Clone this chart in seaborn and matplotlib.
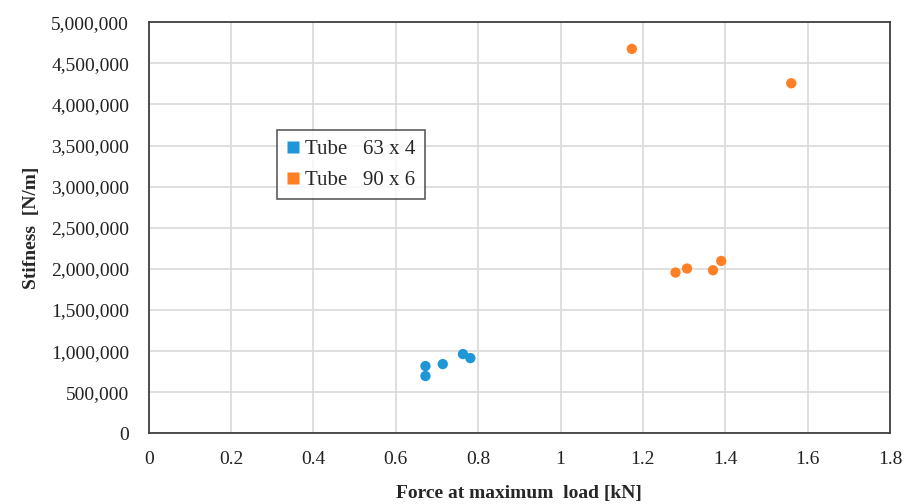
import matplotlib
matplotlib.use("Agg")
import matplotlib.pyplot as plt
import seaborn as sns
import pandas as pd
from matplotlib.ticker import FuncFormatter, MultipleLocator
from matplotlib.lines import Line2D

series_names = ["Tube   63 x 4", "Tube   90 x 6"]
force_63 = [0.672, 0.672, 0.714, 0.763, 0.781]
stiff_63 = [819000, 698000, 843000, 965000, 916000]
force_90 = [1.173, 1.560, 1.279, 1.307, 1.370, 1.390]
stiff_90 = [4675000, 4257000, 1956000, 2005000, 1984000, 2097000]
colors = ["#1E96D8", "#FF7F24"]

df = pd.DataFrame({
    "force": force_63 + force_90,
    "stiff": stiff_63 + stiff_90,
    "series": [series_names[0]] * len(force_63) + [series_names[1]] * len(force_90),
})

sns.set_theme(style="whitegrid")
plt.rcParams["font.family"] = ["Liberation Serif", "DejaVu Serif"]

fig = plt.figure(figsize=(9.12, 5.04), dpi=100)
ax = fig.add_axes([0.163, 0.14, 0.813, 0.816])

sns.scatterplot(data=df, x="force", y="stiff", hue="series", palette=colors,
                s=55, edgecolor="none", ax=ax, legend=False, zorder=3)

ax.set_xlim(0, 1.8)
ax.set_ylim(0, 5000000)
ax.xaxis.set_major_locator(MultipleLocator(0.2))
ax.yaxis.set_major_locator(MultipleLocator(500000))
ax.xaxis.set_major_formatter(FuncFormatter(lambda v, p: f"{v:g}"))
ax.yaxis.set_major_formatter(FuncFormatter(lambda v, p: f"{int(round(v)):,}"))
ax.grid(True, color="#d9d9d9", linewidth=1.2)
for s in ax.spines.values():
    s.set_color("#404040")
    s.set_linewidth(1.3)
ax.tick_params(axis="both", length=0, labelsize=14, colors="#222222")
ax.tick_params(axis="y", pad=14)
ax.tick_params(axis="x", pad=13)

ax.set_xlabel("Force at maximum  load [kN]", fontsize=14, fontweight="bold", labelpad=12)
ax.set_ylabel("Stifness  [N/m]", fontsize=14, fontweight="bold", labelpad=8)

handles = [Line2D([0], [0], marker="s", linestyle="none", markersize=8,
                  markerfacecolor=c, markeredgecolor="none") for c in colors]
leg = ax.legend(handles, series_names, loc="upper left", bbox_to_anchor=(0.173, 0.738),
                borderaxespad=0, frameon=True, fancybox=False, fontsize=15,
                handlelength=0.6, handletextpad=0.3, borderpad=0.45, labelspacing=0.55)
leg.get_frame().set_edgecolor("#333333")
leg.get_frame().set_linewidth(1.2)

fig.savefig("out.png", dpi=100)
